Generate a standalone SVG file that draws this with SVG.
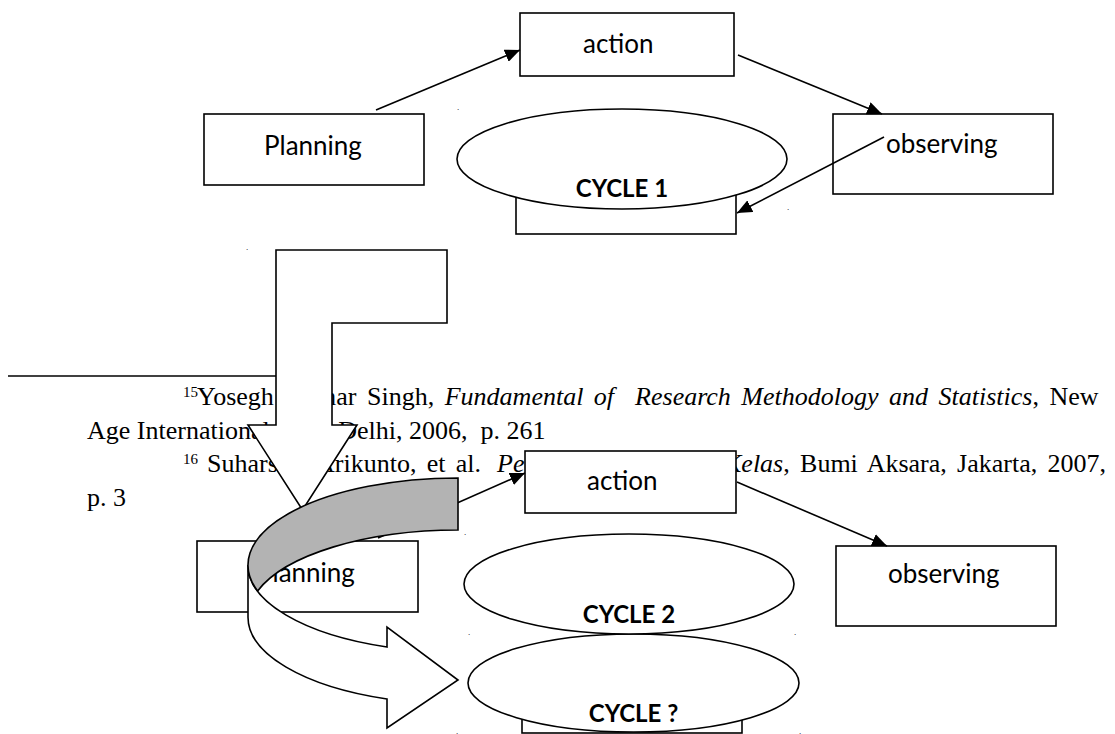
<svg xmlns="http://www.w3.org/2000/svg" width="1115" height="734" viewBox="0 0 1115 734">
<style>
.box{fill:#fff;stroke:#000;stroke-width:1.6}
.lbl{font-family:Lato,"Open Sans",sans-serif;font-size:26px;fill:#000}
.cyc{font-family:Lato,"Open Sans",sans-serif;font-size:24px;font-weight:bold;fill:#000;text-anchor:middle}
.fn{font-family:"Liberation Serif","Times New Roman",serif;font-size:26px;fill:#000}
.sup{font-family:"Liberation Serif","Times New Roman",serif;font-size:15px;fill:#000}
.dot{font-family:"Liberation Serif",serif;font-size:9px;fill:#000}
.con{fill:none;stroke:#000;stroke-width:1.6}
</style>
<defs>
<marker id="ah" markerUnits="userSpaceOnUse" markerWidth="16" markerHeight="13" refX="15" refY="6.5" orient="auto">
<path d="M0,0 L15,6.5 L0,13 Z" fill="#000"/>
</marker>
</defs>

<g id="footnotes">
<line x1="8" y1="376" x2="276" y2="376" stroke="#000" stroke-width="1.6"/>
<text class="sup" x="183" y="397">15</text>
<text class="fn" x="197" y="405" word-spacing="4" xml:space="preserve">Yosegh Kumar Singh, <tspan font-style="italic">Fundamental of  Research Methodology and Statistics</tspan>, New</text>
<text class="fn" x="87" y="439" xml:space="preserve">Age International, New Delhi, 2006,  p. 261</text>
<text class="sup" x="183" y="464">16</text>
<text class="fn" y="472" word-spacing="3.8"><tspan x="207">Suharsimi</tspan> <tspan x="316">Arikunto, et al.</tspan> <tspan x="497" font-style="italic">Pe</tspan></text>
<text class="fn" x="724" y="472" word-spacing="3.8"><tspan font-style="italic">Kelas</tspan>, Bumi Aksara, Jakarta, 2007,</text>
<text class="fn" x="87" y="506">p. 3</text>
</g>

<g id="dots">
<text class="dot" x="457" y="110">.</text>
<text class="dot" x="787" y="210">.</text>
<text class="dot" x="246" y="250">.</text>
<text class="dot" x="464" y="535">.</text>
<text class="dot" x="468" y="635">.</text>
<text class="dot" x="794" y="635">.</text>
<text class="dot" x="456" y="734">.</text>
<text class="dot" x="799" y="734">.</text>
</g>

<g id="cycle1">
<rect class="box" x="516" y="164" width="220" height="70"/>
<ellipse class="box" cx="622" cy="159" rx="165" ry="50"/>
<text class="cyc" x="622" y="197">CYCLE 1</text>
</g>
<g id="planning1">
<rect class="box" x="204" y="114" width="220" height="71"/>
<text class="lbl" x="264" y="155">Planning</text>
</g>
<g id="action1">
<rect class="box" x="520" y="13" width="214" height="63"/>
<text class="lbl" x="583" y="53">action</text>
</g>
<g id="observing1">
<rect class="box" x="833" y="114" width="220" height="80"/>
<text class="lbl" x="886" y="153">observing</text>
</g>

<g id="cycle3">
<rect class="box" x="522" y="672" width="220" height="61"/>
<ellipse class="box" cx="633.5" cy="683" rx="165.5" ry="49"/>
<text class="cyc" x="633.5" y="722">CYCLE ?</text>
</g>
<g id="cycle2">
<ellipse class="box" cx="629" cy="584" rx="165" ry="50"/>
<text class="cyc" x="629" y="623">CYCLE 2</text>
</g>
<g id="planning2">
<rect class="box" x="197" y="541" width="221" height="71"/>
<text class="lbl" x="257" y="582">Planning</text>
</g>
<g id="action2">
<rect class="box" x="525" y="451" width="211" height="62"/>
<text class="lbl" x="587" y="490">action</text>
</g>
<g id="observing2">
<rect class="box" x="836" y="546" width="220" height="80"/>
<text class="lbl" x="888" y="583">observing</text>
</g>

<g id="connectors">
<line class="con" x1="376" y1="110" x2="520" y2="50" marker-end="url(#ah)"/>
<line class="con" x1="738" y1="55" x2="882" y2="114" marker-end="url(#ah)"/>
<line class="con" x1="884" y1="137" x2="737" y2="213" marker-end="url(#ah)"/>
<line class="con" x1="378" y1="538" x2="525" y2="473" marker-end="url(#ah)"/>
<line class="con" x1="737" y1="482" x2="887" y2="546" marker-end="url(#ah)"/>
</g>

<g id="down-arrow">
<polygon class="box" points="276,250 447,250 447,323 332,323 332,425 357,425 302.5,510 248,425 276,425"/>
</g>

<g id="curved-arrow">
<path class="box" d="M248,565 L248,617 A210,87 0 0 0 387,699 L387,728 L458,680 L387,627 L387,647 A210,87 0 0 1 248,565 Z"/>
<path d="M458,478 A210,87 0 0 0 257.6,591 A210,87 0 0 1 458,530 Z" fill="#b3b3b3" stroke="#000" stroke-width="1.6"/>
</g>
</svg>
